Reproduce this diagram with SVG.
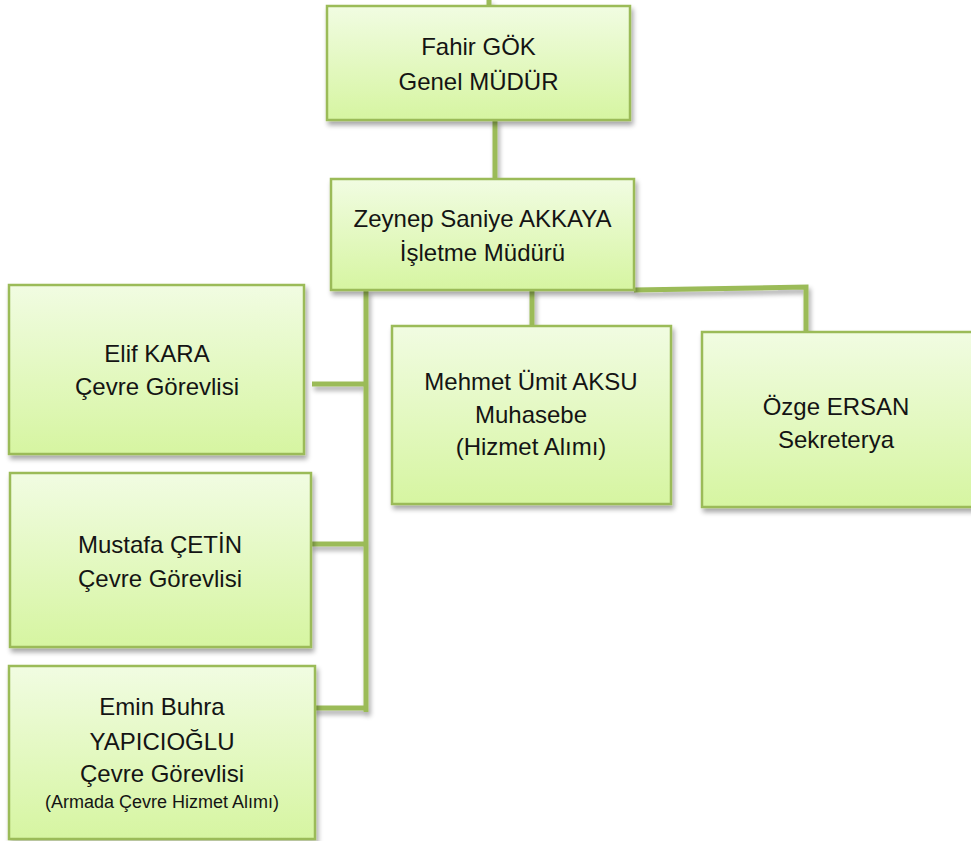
<svg xmlns="http://www.w3.org/2000/svg" width="971" height="841" viewBox="0 0 971 841">
<defs>
<linearGradient id="g" x1="0" y1="0" x2="0" y2="1">
<stop offset="0" stop-color="#f1fce2"/>
<stop offset="1" stop-color="#d6f5a1"/>
</linearGradient>
<filter id="sh" x="-10%" y="-10%" width="130%" height="130%">
<feGaussianBlur in="SourceAlpha" stdDeviation="2.5"/>
<feOffset dx="2" dy="4" result="b"/>
<feComponentTransfer><feFuncA type="linear" slope="0.35"/></feComponentTransfer>
<feMerge><feMergeNode/><feMergeNode in="SourceGraphic"/></feMerge>
</filter>
</defs>
<style>
.box{fill:url(#g);stroke:#9bbb59;stroke-width:2.5;filter:url(#sh)}
.t{font-family:"Liberation Sans",Arial,sans-serif;font-size:24px;fill:#141414;text-anchor:middle}
.s{font-size:18px}
.c{fill:none;stroke:#9bbb59;stroke-width:5;stroke-linejoin:miter}
</style>
<g id="connectors" filter="url(#sh)">
<path class="c" d="M489,0 V7"/>
<path class="c" d="M495,120 V179"/>
<path class="c" d="M366,290 V712"/>
<path class="c" d="M312,384 H368"/>
<path class="c" d="M311,544 H368"/>
<path class="c" d="M313,708 H368"/>
<path class="c" d="M532,290 V326"/>
<path class="c" d="M634,290 L806,287 V332"/>
</g>
<g id="fahir">
<rect class="box" x="327" y="6" width="303" height="114"/>
<text class="t" x="478.5" y="55">Fahir GÖK</text>
<text class="t" x="478.5" y="90">Genel MÜDÜR</text>
</g>
<g id="zeynep">
<rect class="box" x="331" y="179" width="303" height="111"/>
<text class="t" x="482.5" y="227">Zeynep Saniye AKKAYA</text>
<text class="t" x="482.5" y="261">İşletme Müdürü</text>
</g>
<g id="elif">
<rect class="box" x="9" y="285" width="295" height="169"/>
<text class="t" x="157" y="362">Elif KARA</text>
<text class="t" x="157" y="395">Çevre Görevlisi</text>
</g>
<g id="mustafa">
<rect class="box" x="10" y="473" width="301" height="174"/>
<text class="t" x="160" y="553">Mustafa ÇETİN</text>
<text class="t" x="160" y="587">Çevre Görevlisi</text>
</g>
<g id="emin">
<rect class="box" x="9" y="666" width="306" height="173"/>
<text class="t" x="162" y="715">Emin Buhra</text>
<text class="t" x="162" y="750">YAPICIOĞLU</text>
<text class="t" x="162" y="782">Çevre Görevlisi</text>
<text class="t s" x="162" y="808">(Armada Çevre Hizmet Alımı)</text>
</g>
<g id="mehmet">
<rect class="box" x="392" y="326" width="279" height="178"/>
<text class="t" x="531" y="390">Mehmet Ümit AKSU</text>
<text class="t" x="531" y="423">Muhasebe</text>
<text class="t" x="531" y="455">(Hizmet Alımı)</text>
</g>
<g id="ozge">
<rect class="box" x="702" y="332" width="275" height="175"/>
<text class="t" x="836" y="415">Özge ERSAN</text>
<text class="t" x="836" y="448">Sekreterya</text>
</g>
</svg>
